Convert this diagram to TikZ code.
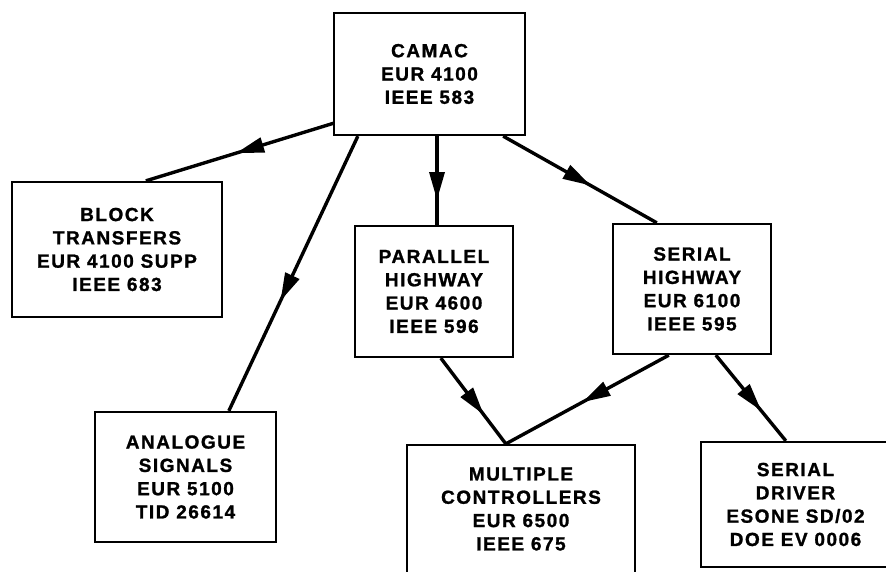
\documentclass[tikz,border=0pt]{standalone}
\usepackage{fontspec}
\newfontfamily\boxfont{Liberation Sans}[LetterSpace=8,FakeBold=1.2]
\usetikzlibrary{arrows.meta,calc,decorations.markings}
\tikzset{
  box/.style={draw, line width=2.3pt, inner sep=0pt, align=center,
    font={\boxfont\bfseries\fontsize{19}{23.3}\selectfont}},
  conn/.style={line width=3.4pt},
  midarrow/.style={postaction={decorate}, decoration={markings,
    mark=at position #1 with {\arrow{Triangle[length=28pt,width=15pt]}}}}
}
\begin{document}
\begin{tikzpicture}[x=1pt,y=-1pt]
\useasboundingbox (0,0) rectangle (886,572);
\clip (0,0) rectangle (886,572);
\node[box, minimum width=191pt, minimum height=122pt] (camac) at (429.5,74) {CAMAC\\EUR 4100\\IEEE 583};
\node[box, minimum width=210pt, minimum height=135pt] (block) at (117,249.5) {BLOCK\\TRANSFERS\\EUR 4100 SUPP\\IEEE 683};
\node[box, minimum width=158pt, minimum height=131pt] (parallel) at (434,291.5) {PARALLEL\\HIGHWAY\\EUR 4600\\IEEE 596};
\node[box, minimum width=158pt, minimum height=130pt] (serialhw) at (692,289) {SERIAL\\HIGHWAY\\EUR 6100\\IEEE 595};
\node[box, minimum width=181pt, minimum height=130pt] (analogue) at (185.5,477) {ANALOGUE\\SIGNALS\\EUR 5100\\TID 26614};
\node[box, minimum width=228pt, minimum height=128pt] (multiple) at (521,509) {MULTIPLE\\CONTROLLERS\\EUR 6500\\IEEE 675};
\node[box, minimum width=189pt, minimum height=125pt] (driver) at (795.5,504.5) {SERIAL\\DRIVER\\ESONE SD/02\\DOE EV 0006};
\coordinate (pp) at ($(parallel.north)+(3,0)$);
\coordinate (mj) at ($(multiple.north west)+(100,0)$);
\draw[conn, midarrow=0.52] ($(camac.south west)+(1,-13)$) -- ($(block.north west)+(135,0)$);
\draw[conn, midarrow=0.6] ($(camac.south west)+(25,0)$) -- ($(analogue.north west)+(135,0)$);
\draw[conn, midarrow=0.72] (camac.south -| pp) -- (pp);
\draw[conn, midarrow=0.57] ($(camac.south east)+(-23,0)$) -- ($(serialhw.north west)+(45,0)$);
\draw[conn, midarrow=0.66] ($(parallel.south west)+(87,0)$) -- (mj);
\draw[conn, midarrow=0.53] ($(serialhw.south west)+(57,0)$) -- (mj);
\draw[conn, midarrow=0.65] ($(serialhw.south west)+(104,0)$) -- ($(driver.north west)+(86,0)$);
\end{tikzpicture}
\end{document}
